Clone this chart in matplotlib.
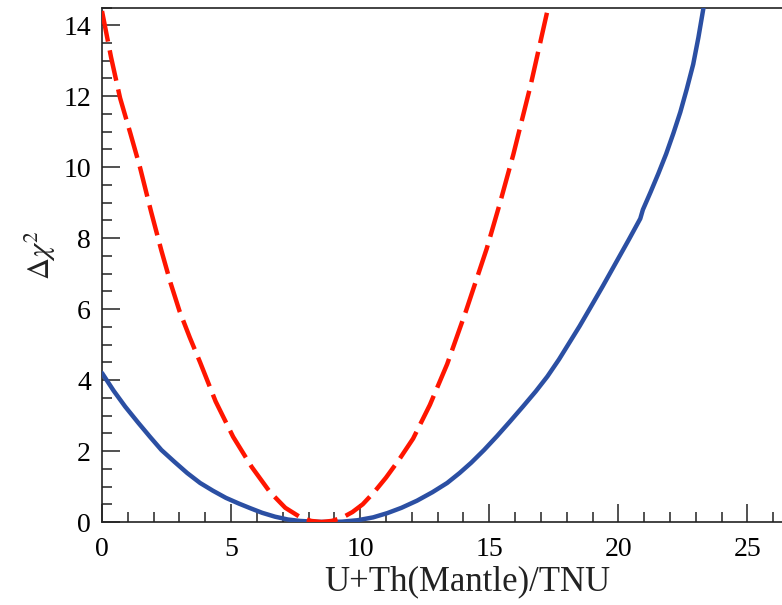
import matplotlib
matplotlib.use("Agg")
import matplotlib.pyplot as plt
from matplotlib.ticker import MultipleLocator

# Data
red_x = [0.0, 0.35, 0.7, 1.1, 1.47, 1.9, 2.3, 2.65, 3.0, 3.4, 3.8, 4.4, 5.08, 5.8, 6.5, 7.1, 7.67, 8.1, 8.5,
         8.9, 9.3, 9.7, 10.1, 10.55, 11.0, 11.5, 12.05, 12.7, 13.37, 14.1, 14.9, 15.4, 15.93, 16.6, 17.25]
red_y = [14.4, 13.1, 11.95, 10.95, 10.0, 8.75, 7.65, 6.75, 5.95, 5.2, 4.5, 3.4, 2.4, 1.55, 0.85, 0.4, 0.14, 0.03, 0.0,
         0.03, 0.12, 0.28, 0.5, 0.85, 1.25, 1.75, 2.35, 3.3, 4.45, 5.95, 7.7, 8.95, 10.35, 12.3, 14.4]

blue_x = [0.0, 0.45, 0.9, 1.4, 1.86, 2.3, 2.8, 3.3, 3.8, 4.3, 4.8, 5.3, 5.74, 6.2, 6.7, 7.2, 7.67, 8.3, 8.8,
          9.3, 9.9, 10.5, 11.05, 11.6, 12.2, 12.8, 13.37, 13.85, 14.3, 14.8, 15.3, 15.8, 16.3, 16.8, 17.25,
          17.7, 18.1, 18.5, 18.9, 19.4, 19.9, 20.4, 20.85, 20.95, 21.25, 21.55, 21.85, 22.13, 22.4, 22.65,
          22.9, 23.1, 23.3]
blue_y = [4.2, 3.7, 3.25, 2.8, 2.4, 2.03, 1.7, 1.38, 1.1, 0.88, 0.68, 0.52, 0.39, 0.26, 0.15, 0.07, 0.03, 0.005, 0.0,
          0.01, 0.05, 0.13, 0.25, 0.4, 0.6, 0.84, 1.1, 1.38, 1.67, 2.03, 2.42, 2.83, 3.25, 3.68, 4.1,
          4.58, 5.05, 5.52, 6.02, 6.65, 7.3, 7.95, 8.55, 8.8, 9.3, 9.82, 10.37, 10.95, 11.55, 12.2,
          12.9, 13.65, 14.5]

x_major = [0, 5, 10, 15, 20, 25]
y_major = [0, 2, 4, 6, 8, 10, 12, 14]

plt.rcParams['font.family'] = ['Liberation Serif', 'DejaVu Serif']
plt.rcParams['mathtext.fontset'] = 'stix'

fig = plt.figure(figsize=(7.82, 6.05), dpi=100)
ax = fig.add_axes([102/782, 83/605, 1.0 - 102/782 + 0.002, (522 - 7.5)/605])

ax.plot(blue_x, blue_y, color='#2B4FA3', lw=3.2, solid_capstyle='round', zorder=3)
ax.plot(red_x, red_y, color='#FF1500', lw=3.2, dashes=(7, 2), zorder=4)

ax.set_xlim(0, 26.4)
ax.set_ylim(0, 14.5)
ax.set_xticks(x_major)
ax.set_yticks(y_major)
ax.xaxis.set_minor_locator(MultipleLocator(1))
ax.yaxis.set_minor_locator(MultipleLocator(0.5))

ax.tick_params(which='major', direction='in', length=13, width=1.1, labelsize=20,
               top=False, right=False, color='#222222')
ax.tick_params(axis='y', which='major', pad=8)
ax.tick_params(axis='x', which='major', pad=11)
ax.tick_params(which='minor', direction='in', length=7.5, width=1.1,
               top=False, right=False, color='#222222')
for s in ['left', 'bottom', 'top']:
    ax.spines[s].set_linewidth(1.2)
    ax.spines[s].set_color('#222222')
ax.spines['right'].set_visible(False)

ax.set_xlabel('U+Th(Mantle)/TNU', fontsize=25, color='#222222', va='bottom')
ax.xaxis.set_label_coords((467 - 102) / 681, -(598 - 522) / 514.5)
ax.set_ylabel(r'$\Delta\chi^2$', fontsize=22, color='#222222', va='center')
ax.yaxis.set_label_coords(-(102 - 40) / 681, (522 - 255) / 514.5)

fig.savefig('out.png', dpi=100)
